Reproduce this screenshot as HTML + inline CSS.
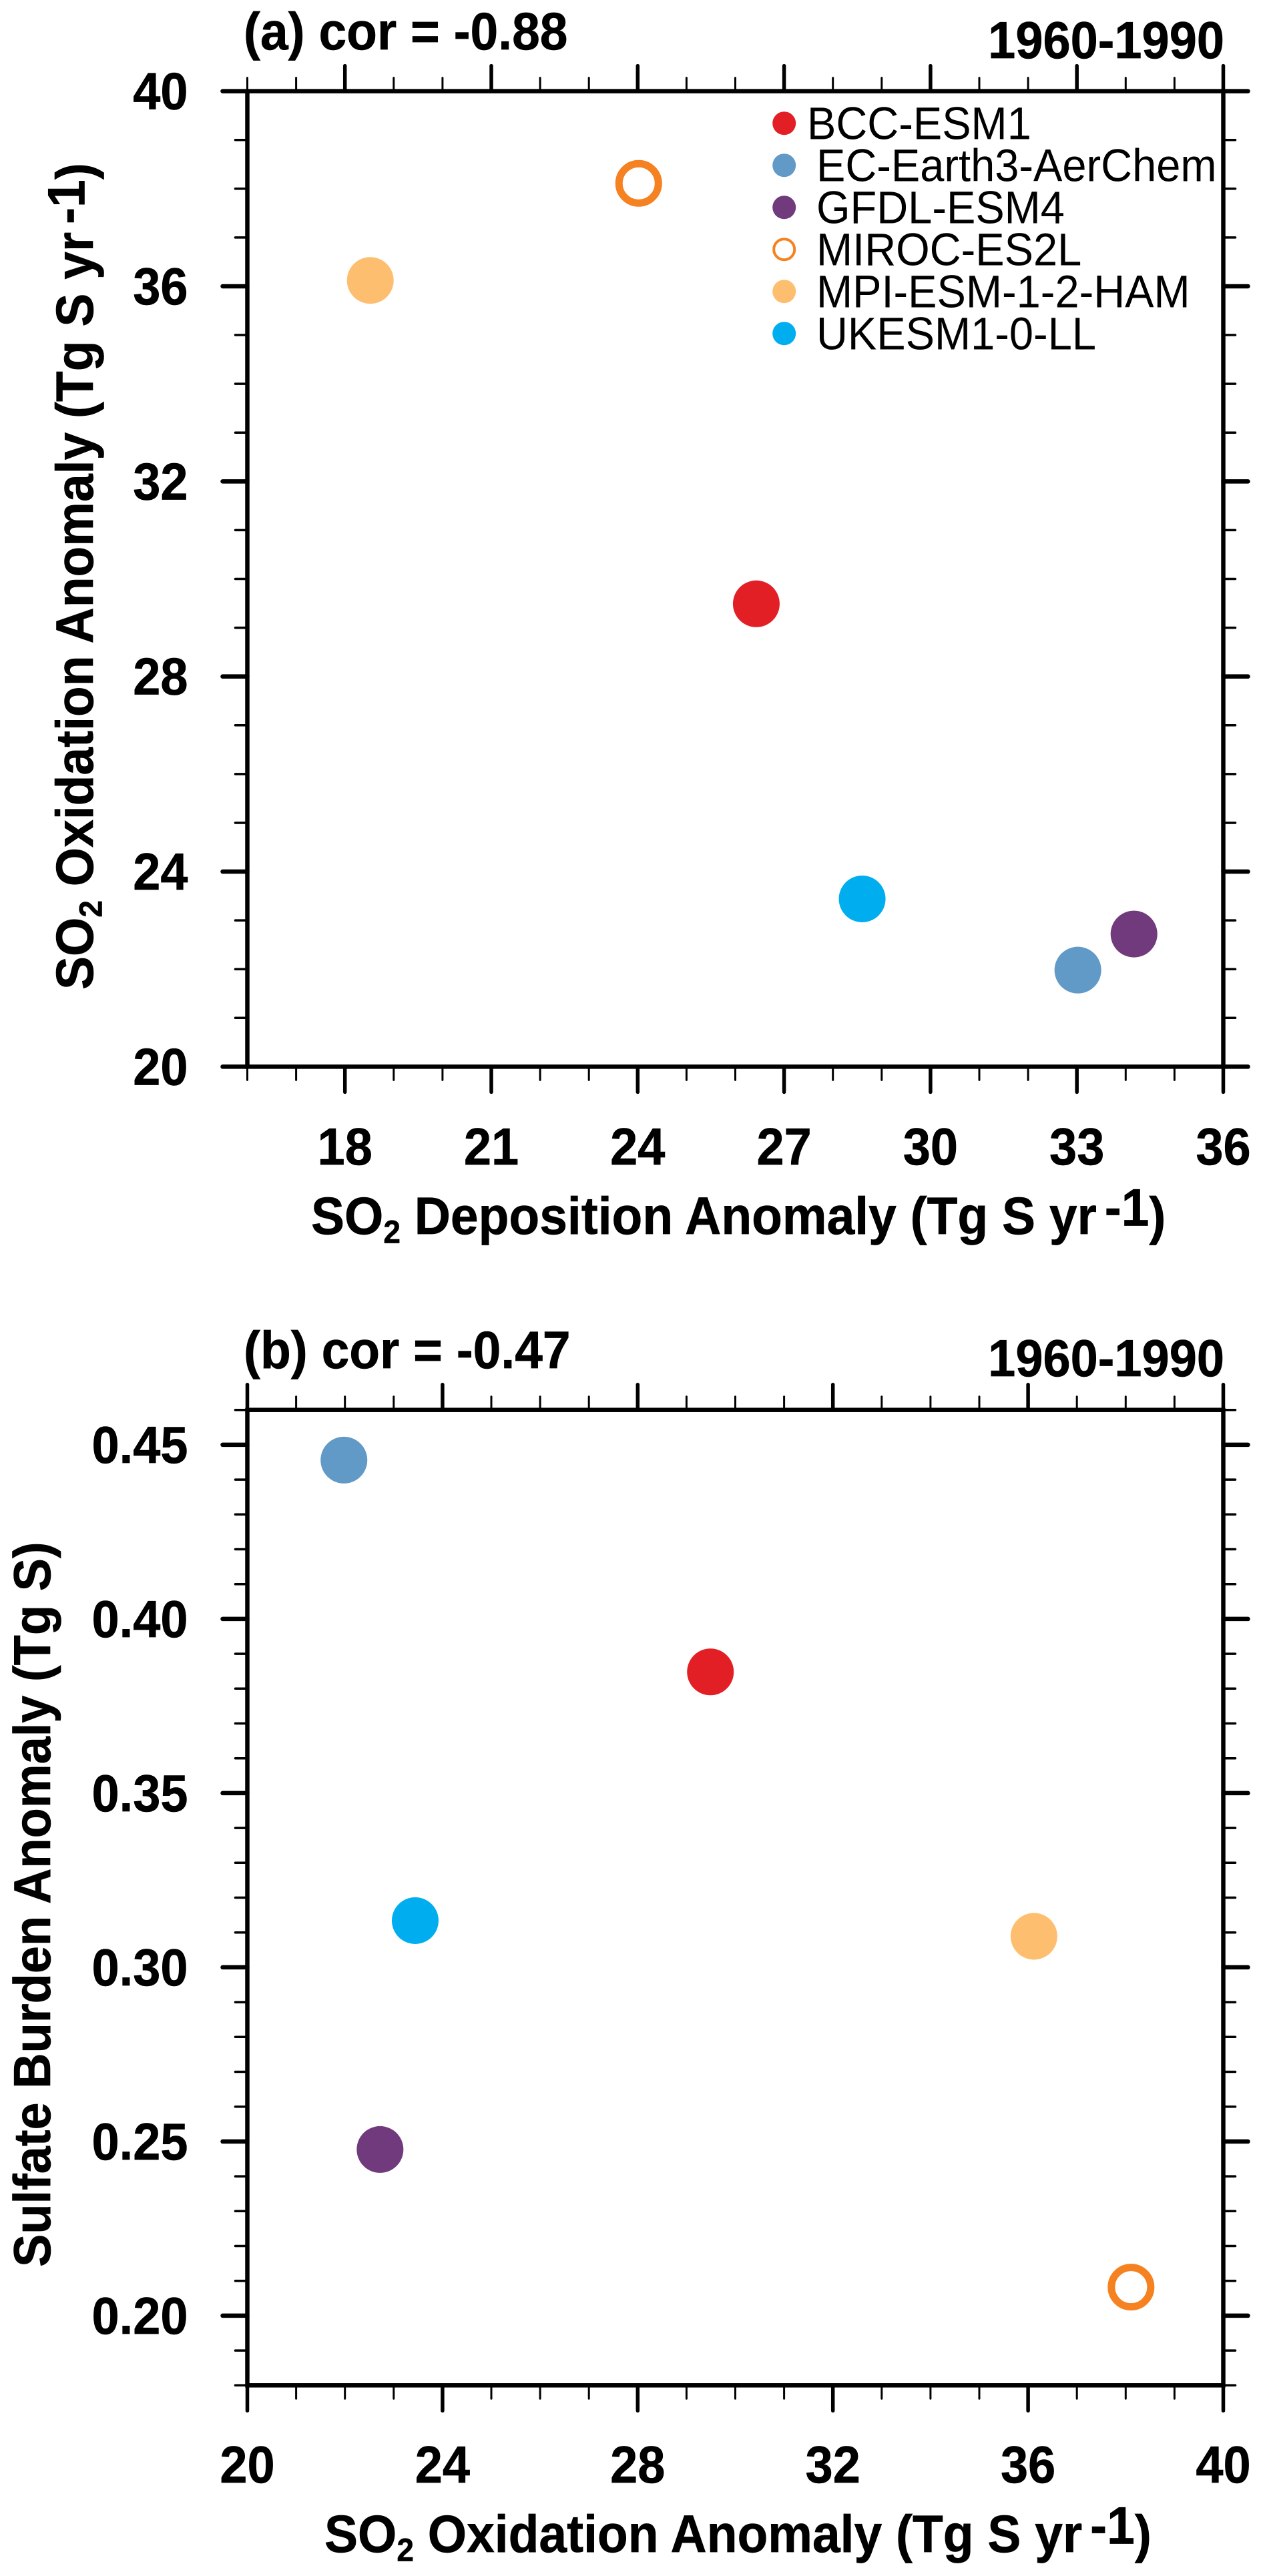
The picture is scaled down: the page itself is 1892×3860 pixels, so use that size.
<!DOCTYPE html>
<html lang="en">
<head>
<meta charset="utf-8">
<title>SO2 budget scatter plots 1960-1990</title>
<style>
html,body{margin:0;padding:0;background:#fff;}
svg{display:block;}
text{font-family:"Liberation Sans",sans-serif;fill:#000;}
.bold{font-weight:bold;font-size:74px;stroke:#000;stroke-width:0.6px;}
.title{font-size:75px;}
.legend-text{font-weight:normal;font-size:65px;}
</style>
</head>
<body>
<svg id="figure" xmlns="http://www.w3.org/2000/svg" width="1892" height="3860" viewBox="0 0 1892 3860">
  <rect x="0" y="0" width="1892" height="3860" fill="#fff"/>
  <g id="panel-a">
    <text class="bold title" transform="translate(365 74) scale(1 1.05)">(a) cor = -0.88</text>
    <text class="bold" text-anchor="end" transform="translate(1834 87) scale(1 1.05)">1960-1990</text>
    <text class="bold title" transform="translate(466 1849) scale(1 1.05)">SO<tspan font-size="46" dy="13">2</tspan><tspan dy="-13"> Deposition Anomaly (Tg S yr</tspan><tspan dx="12" dy="-12">-1</tspan><tspan dy="12">)</tspan></text>
    <text class="bold title" transform="translate(139 1483) rotate(-90) scale(1 1.05)">SO<tspan font-size="46" dy="13">2</tspan><tspan dy="-13"> Oxidation Anomaly (Tg S yr</tspan><tspan dx="12" dy="-12">-1</tspan><tspan dy="12">)</tspan></text>
  </g>
  <g id="panel-b">
    <text class="bold title" transform="translate(365 2050) scale(1 1.05)">(b) cor = -0.47</text>
    <text class="bold" text-anchor="end" transform="translate(1834 2062) scale(1 1.05)">1960-1990</text>
    <text class="bold title" transform="translate(486 3824) scale(1 1.05)">SO<tspan font-size="46" dy="13">2</tspan><tspan dy="-13"> Oxidation Anomaly (Tg S yr</tspan><tspan dx="12" dy="-12">-1</tspan><tspan dy="12">)</tspan></text>
    <text class="bold" transform="translate(75 3397) rotate(-90) scale(1 1.05)">Sulfate Burden Anomaly (Tg S)</text>
  </g>
</svg>
<script>
const models = ["BCC-ESM1", "EC-Earth3-AerChem", "GFDL-ESM4", "MIROC-ES2L", "MPI-ESM-1-2-HAM", "UKESM1-0-LL"];
const modelColors = ["#e31f26", "#6199c7", "#713a7c", "#f58120", "#fdbf6f", "#00aeef"];
const hollowModel = "MIROC-ES2L";

const depositionValues = [26.43, 33.02, 34.17, 24.02, 18.52, 28.60];
const oxidationValues = [29.49, 21.98, 22.72, 38.11, 36.12, 23.44];
const burdenValues = [0.3848, 0.4456, 0.2477, 0.2082, 0.3089, 0.3134];

const panelAXTickLabels = ["18", "21", "24", "27", "30", "33", "36"];
const panelAXMinorTicks = [16, 17, 19, 20, 22, 23, 25, 26, 28, 29, 31, 32, 34, 35];
const panelAYTickLabels = ["20", "24", "28", "32", "36", "40"];
const panelAYMinorTicks = [21, 22, 23, 25, 26, 27, 29, 30, 31, 33, 34, 35, 37, 38, 39];
const panelBXTickLabels = ["20", "24", "28", "32", "36", "40"];
const panelBXMinorTicks = [21, 22, 23, 25, 26, 27, 29, 30, 31, 33, 34, 35, 37, 38, 39];
const panelBYTickLabels = ["0.20", "0.25", "0.30", "0.35", "0.40", "0.45"];
const panelBYMinorTicks = [0.18, 0.19, 0.21, 0.22, 0.23, 0.24, 0.26, 0.27, 0.28, 0.29, 0.31, 0.32, 0.33, 0.34, 0.36, 0.37, 0.38, 0.39, 0.41, 0.42, 0.43, 0.44, 0.46];

const SVG_NS = "http://www.w3.org/2000/svg";

function linearScale(d0, d1, r0, r1) {
  return function (v) { return r0 + (v - d0) / (d1 - d0) * (r1 - r0); };
}

function svgEl(tag, attrs, parent) {
  const el = document.createElementNS(SVG_NS, tag);
  Object.keys(attrs).forEach(function (k) { el.setAttribute(k, attrs[k]); });
  parent.appendChild(el);
  return el;
}

function drawPanel(cfg) {
  const g = document.getElementById(cfg.id);
  const L = cfg.left, R = cfg.right, T = cfg.top, B = cfg.bottom;
  const x = linearScale(cfg.xMin, cfg.xMax, L, R);
  const y = linearScale(cfg.yMin, cfg.yMax, B, T);

  cfg.xMinor.forEach(function (v) {
    [[T, T - 20], [B, B + 20]].forEach(function (p) {
      const t = svgEl("line", { x1: x(v), x2: x(v), y1: p[0], y2: p[1], stroke: "#000", "stroke-width": 3, "stroke-linecap": "round" }, g);
      
      
    });
  });
  cfg.xMajor.forEach(function (lab) {
    const v = parseFloat(lab);
    [[T, T - 38], [B, B + 38]].forEach(function (p) {
      const t = svgEl("line", { x1: x(v), x2: x(v), y1: p[0], y2: p[1], stroke: "#000", "stroke-width": 5.5, "stroke-linecap": "round" }, g);
      
      
    });
    const txt = svgEl("text", { "text-anchor": "middle", "class": "bold", transform: "translate(" + x(v) + " " + cfg.xLabelY + ") scale(1 1.05)" }, g);
    txt.textContent = lab;
    
    
  });
  cfg.yMinor.forEach(function (v) {
    [[L, L - 18], [R, R + 18]].forEach(function (p) {
      const t = svgEl("line", { x1: p[0], x2: p[1], y1: y(v), y2: y(v), stroke: "#000", "stroke-width": 3.5, "stroke-linecap": "round" }, g);
      
      
    });
  });
  cfg.yMajor.forEach(function (lab) {
    const v = parseFloat(lab);
    [[L, L - 37], [R, R + 37]].forEach(function (p) {
      const t = svgEl("line", { x1: p[0], x2: p[1], y1: y(v), y2: y(v), stroke: "#000", "stroke-width": 6.5, "stroke-linecap": "round" }, g);
      
      
    });
    const txt = svgEl("text", { "text-anchor": "end", "class": "bold", transform: "translate(" + (L - 89) + " " + (y(v) + 27) + ") scale(1 1.05)" }, g);
    txt.textContent = lab;
    
    
  });

  const frame = svgEl("rect", { x: L, y: T, width: R - L, height: B - T, fill: "none", stroke: "#000", "stroke-width": 6.5 }, g);
  
  

  models.forEach(function (name, i) {
    const hollow = name === hollowModel;
    const c = svgEl("circle", {
      cx: x(cfg.xValues[i]),
      cy: y(cfg.yValues[i]),
      r: hollow ? 29.5 : 35,
      fill: hollow ? "none" : modelColors[i],
      stroke: hollow ? modelColors[i] : "none",
      "stroke-width": hollow ? 11 : 0
    }, g);
    
    
  });
}

drawPanel({
  id: "panel-a", left: 370.5, right: 1832.5, top: 136.6, bottom: 1598.4,
  xMin: 16, xMax: 36, yMin: 20, yMax: 40,
  xMajor: panelAXTickLabels, xMinor: panelAXMinorTicks,
  yMajor: panelAYTickLabels, yMinor: panelAYMinorTicks,
  xLabelY: 1745, xValues: depositionValues, yValues: oxidationValues
});
drawPanel({
  id: "panel-b", left: 370.5, right: 1832.5, top: 2112.7, bottom: 3574.3,
  xMin: 20, xMax: 40, yMin: 0.18, yMax: 0.46,
  xMajor: panelBXTickLabels, xMinor: panelBXMinorTicks,
  yMajor: panelBYTickLabels, yMinor: panelBYMinorTicks,
  xLabelY: 3720, xValues: oxidationValues, yValues: burdenValues
});

const legendRoot = document.getElementById("panel-a");
const legendGroup = svgEl("g", {}, legendRoot);


models.forEach(function (name, i) {
  const baseY = 208.3 + i * 63;
  const hollow = name === hollowModel;
  const m = svgEl("circle", {
    cx: 1174.7,
    cy: baseY - 23.6,
    r: hollow ? 15.5 : 17.5,
    fill: hollow ? "none" : modelColors[i],
    stroke: hollow ? modelColors[i] : "none",
    "stroke-width": hollow ? 4 : 0
  }, legendGroup);
  
  
  const t = svgEl("text", { "class": "legend-text", transform: "translate(" + (i === 0 ? 1209 : 1223) + " " + baseY + ") scale(1 1.06)" }, legendGroup);
  t.textContent = name;
  
  
});
</script>
</body>
</html>
